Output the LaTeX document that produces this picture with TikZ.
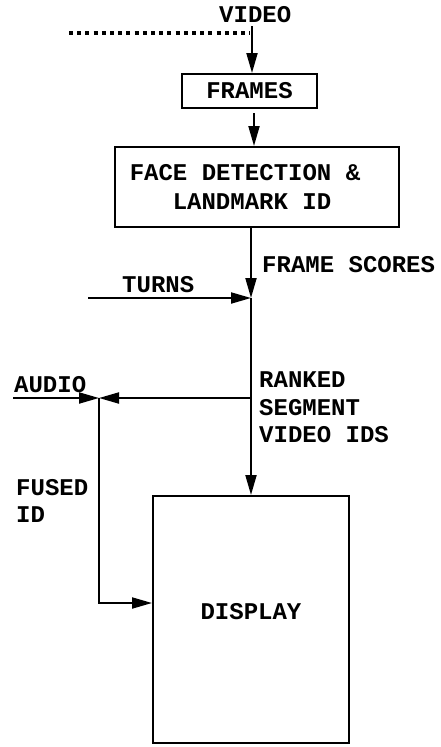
\documentclass[tikz,border=0pt]{standalone}
\usepackage{fontspec}
\setmainfont{Liberation Mono}
\usetikzlibrary{arrows.meta}
\tikzset{
  txt/.style={font={\fontsize{24}{28}\selectfont\bfseries}},
  lab/.style={txt, inner sep=0pt, anchor=base west, align=left},
  box/.style={txt, draw, line width=2pt, inner sep=0pt, align=center},
  conn/.style={line width=2pt},
  arr/.style={conn, -{Triangle[length=20pt,width=11pt]}},
  dotline/.style={line width=3.5pt, dash pattern=on 4pt off 4.2pt}
}
\begin{document}
\begin{tikzpicture}[x=1pt,y=-1pt]
\useasboundingbox (0,0) rectangle (440,747);
% boxes
\node[box, minimum width=135pt, minimum height=34pt] (frames) at (249.5,91) {FRAMES};
\node[box, minimum width=284pt, minimum height=80pt, align=left, font={\fontsize{24}{29}\selectfont\bfseries}] (face) at (257,187) {FACE DETECTION \&\hspace*{24pt}\\\hspace*{43pt}LANDMARK ID};
\node[box, minimum width=196pt, minimum height=247pt, text depth=16pt] (display) at (251,619.5) {DISPLAY};
% labels
\node[lab] (video) at (219,22) {VIDEO};
\node[lab] (fscores) at (262,272) {FRAME SCORES};
\node[lab] (turns) at (122,292) {TURNS};
\node[lab] (audio) at (14,392) {AUDIO};
\node[lab] (ranked) at (259,442) {RANKED\\[-0.5pt]SEGMENT\\[-1pt]VIDEO IDS};
\node[lab] (fused) at (16,522) {FUSED\\[-1pt]ID};
% coordinates
\coordinate (vtop) at (252,26);
\coordinate (dotL) at (69,33);
\coordinate (dotR) at (250,33);
\coordinate (ftop) at (254,113);
\coordinate (j1) at (251,298);
\coordinate (j2) at (251,398);
\coordinate (turnsL) at (88,298);
\coordinate (fj) at (99,398);
\coordinate (audioL) at (13,398);
\coordinate (fb) at (99,603);
% connectors
\draw[dotline] (dotL) -- (dotR);
\draw[arr] (vtop) -- (vtop |- frames.north);
\draw[arr] (ftop) -- (ftop |- face.north);
\draw[arr] (face.south -| j1) -- (j1);
\draw[arr] (turnsL) -- (j1);
\draw[arr] (j1) -- (display.north -| j1);
\draw[arr] (j2) -- (fj);
\draw[arr] (audioL) -- (fj);
\draw[arr] (fj) -- (fb) -- (fb -| display.west);
\end{tikzpicture}
\end{document}
